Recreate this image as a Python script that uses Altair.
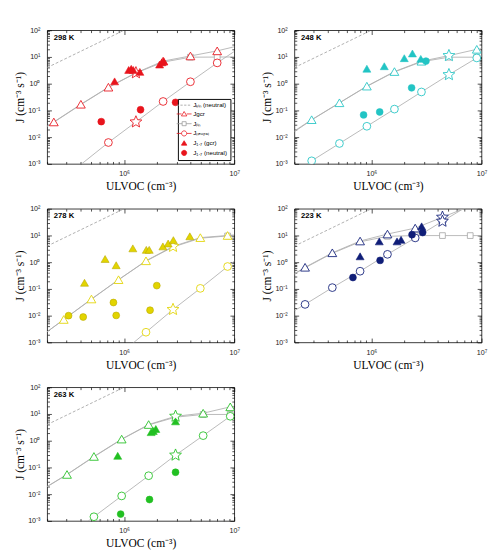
import altair as alt
import pandas as pd

XMIN, XMAX = 2e5, 1e7
YMIN, YMAX = 1e-3, 1e2

# kinetic limit (neutral), same in every panel
KIN_X = [2e5, 1e6]
KIN_Y = [4.0, 100.0]

# ---------------- 298 K ----------------
X_298 = [2.3e5, 4.05e5, 7.2e5, 1.28e6, 2.26e6, 4.0e6, 7.0e6]
GCR_LINE_298 = [0.026, 0.037, 0.17, 0.74, 2.55, 7.0, 10.9, 16.9, 24]
LIN_LINE_298 = [0.025, 0.036, 0.165, 0.72, 2.5, 6.4, 9.8, 9.9, 10]
NEU_LINE_298 = [1.0e-4, 1.6e-4, 9.5e-4, 0.0063, 0.037, 0.216, 1.18, 6.0, 16]
GCR_MK_298 = [0.037, 0.17, 0.74, 2.55, 7.0, 10.9, 16.9]
LIN_MK_298 = [None, None, None, None, None, 9.8, 9.9]
NEU_MK_298 = [None, None, 0.0063, 0.037, 0.216, 1.18, 6.0]
STAR_298 = 3
G17X_298 = [8.2e5, 1.1e6, 1.16e6, 1.21e6, 1.39e6, 2.1e6, 2.2e6, 2.29e6]
G17Y_298 = [1.22, 3.27, 3.6, 3.27, 2.77, 5.2, 6.3, 6.9]
N17X_298 = [6.2e5, 1.41e6, 2.93e6]
N17Y_298 = [0.038, 0.106, 0.2]

# ---------------- 248 K ----------------
X_248 = [2.87e5, 5.13e5, 9.1e5, 1.62e6, 2.85e6, 5.06e6, 9.06e6]
GCR_LINE_248 = [0.017, 0.045, 0.193, 0.81, 2.84, 6.9, 11.2, 19.3, 20.5]
LIN_LINE_248 = [0.016, 0.044, 0.19, 0.79, 2.75, 6.6, 9.8, 9.8, 9.9]
NEU_LINE_248 = [5.0e-4, 0.0013, 0.0058, 0.0255, 0.112, 0.49, 2.17, 9.2, 11]
GCR_MK_248 = [0.045, 0.193, 0.81, 2.84, 6.9, 11.2, 19.3]
LIN_MK_248 = [None, None, None, None, None, 9.8, 9.8]
NEU_MK_248 = [0.0013, 0.0058, 0.0255, 0.112, 0.49, 2.17, 9.2]
STAR_248 = 5
G17X_248 = [9.1e5, 1.31e6, 1.99e6, 2.36e6, 2.81e6]
G17Y_248 = [3.63, 4.5, 9.0, 13.5, 8.5]
N17X_248 = [8.5e5, 1.19e6, 2.32e6, 3.13e6]
N17Y_248 = [0.068, 0.0875, 0.70, 7.0]

# ---------------- 278 K ----------------
X_278 = [2.83e5, 5.05e5, 8.9e5, 1.58e6, 2.78e6, 4.92e6, 8.7e6]
GCR_LINE_278 = [0.0025, 0.0072, 0.042, 0.222, 1.13, 3.9, 8.3, 10.0, 10.5]
LIN_LINE_278 = [0.0025, 0.0071, 0.041, 0.22, 1.1, 3.7, 7.9, 9.6, 9.8]
NEU_LINE_278 = [None, None, None, 3.3e-4, 0.0024, 0.017, 0.105, 0.69, 1.09]
GCR_MK_278 = [0.0072, 0.042, 0.222, 1.13, 3.9, 8.3, 10.0]
LIN_MK_278 = [None, None, None, None, None, None, 9.6]
NEU_MK_278 = [None, None, None, 0.0024, 0.017, 0.105, 0.69]
STAR_278 = 4
G17X_278 = [4.37e5, 6.72e5, 8.47e5, 1.2e6, 1.59e6, 1.69e6, 2.25e6, 2.51e6, 2.8e6, 3.95e6]
G17Y_278 = [0.17, 1.32, 0.77, 3.3, 2.9, 2.9, 3.9, 5.0, 6.7, 9.3]
N17X_278 = [3.13e5, 4.25e5, 8.0e5, 8.47e5, 1.72e6, 1.98e6]
N17Y_278 = [0.01, 0.0089, 0.031, 0.0102, 0.016, 0.133]

# ---------------- 223 K ----------------
X_223 = [2.5e5, 4.42e5, 7.9e5, 1.4e6, 2.5e6, 4.42e6, 7.9e6]
GCR_LINE_223 = [0.37, 0.645, 2.25, 6.2, 11.3, 18.9, 48, 126, None]
LIN_LINE_223 = [0.36, 0.62, 2.15, 5.8, 9.3, 9.9, 9.9, 9.9, 9.9]
NEU_LINE_223 = [0.0153, 0.0264, 0.112, 0.46, 1.97, 8.1, 34, 143, None]
GCR_MK_223 = [0.645, 2.25, 6.2, 11.3, 18.9, 48, None]
LIN_MK_223 = [None, None, None, 9.3, 9.9, 9.9, 9.9]
NEU_MK_223 = [0.0264, 0.112, 0.46, 1.97, 8.1, 34, None]
STAR_223 = 5
G17X_223 = [7.9e5, 1.18e6, 1.71e6, 1.86e6, 2.86e6]
G17Y_223 = [1.66, 6.0, 6.0, 6.9, 22]
N17X_223 = [6.8e5, 1.2e6, 2.34e6, 2.92e6]
N17Y_223 = [0.267, 1.17, 10.7, 12.9]

# ---------------- 263 K ----------------
X_263 = [3.03e5, 5.32e5, 9.5e5, 1.67e6, 2.93e6, 5.22e6, 9.2e6]
GCR_LINE_263 = [0.0195, 0.0547, 0.258, 1.15, 4.03, 8.2, 10.7, 18.5, 19.5]
LIN_LINE_263 = [0.019, 0.054, 0.25, 1.12, 3.9, 7.6, 9.6, 9.6, 9.7]
NEU_LINE_263 = [None, 2.5e-4, 0.00143, 0.0086, 0.049, 0.288, 1.55, 8.2, 10]
GCR_MK_263 = [0.0547, 0.258, 1.15, 4.03, 8.2, 10.7, 18.5]
LIN_MK_263 = [None, None, None, None, None, 9.6, 9.6]
NEU_MK_263 = [None, 0.00143, 0.0086, 0.049, 0.288, 1.55, 8.2]
STAR_263 = 4
G17X_263 = [8.75e5, 1.76e6, 1.84e6, 1.94e6, 2.93e6]
G17Y_263 = [0.272, 2.09, 2.3, 2.75, 5.3]
N17X_263 = [9.3e5, 1.7e6, 2.93e6]
N17Y_263 = [0.0018, 0.0063, 0.066]

TEMPS = ["298 K", "248 K", "278 K", "223 K", "263 K"]
COLORS = ["#e8141c", "#22c4c4", "#e2d400", "#101e78", "#22c022"]
EDGES = ["#e8141c", "#22c4c4", "#b8a800", "#101e78", "#22c022"]

LEG_NAMES = ["Jₖᵢₙ (neutral)", "Jgcr", "Jₗᵢₙ", "Jₙₑᵤₜᵣₐₗ", "J₁.₇ (gcr)", "J₁.₇ (neutral)"]

PANEL_DATA = [
    (X_298, GCR_LINE_298, LIN_LINE_298, NEU_LINE_298, GCR_MK_298, LIN_MK_298, NEU_MK_298, STAR_298,
     G17X_298, G17Y_298, N17X_298, N17Y_298),
    (X_248, GCR_LINE_248, LIN_LINE_248, NEU_LINE_248, GCR_MK_248, LIN_MK_248, NEU_MK_248, STAR_248,
     G17X_248, G17Y_248, N17X_248, N17Y_248),
    (X_278, GCR_LINE_278, LIN_LINE_278, NEU_LINE_278, GCR_MK_278, LIN_MK_278, NEU_MK_278, STAR_278,
     G17X_278, G17Y_278, N17X_278, N17Y_278),
    (X_223, GCR_LINE_223, LIN_LINE_223, NEU_LINE_223, GCR_MK_223, LIN_MK_223, NEU_MK_223, STAR_223,
     G17X_223, G17Y_223, N17X_223, N17Y_223),
    (X_263, GCR_LINE_263, LIN_LINE_263, NEU_LINE_263, GCR_MK_263, LIN_MK_263, NEU_MK_263, STAR_263,
     G17X_263, G17Y_263, N17X_263, N17Y_263),
]

# ---------------- styling ----------------
W, H = 196, 140
GREY = "#b0b0b0"
SANS = "Liberation Sans"
SERIF = "Liberation Serif"

STAR = ("M0,-1L0.2645,-0.364L0.951,-0.309L0.428,0.139L0.588,0.809L0,0.45"
        "L-0.588,0.809L-0.428,0.139L-0.951,-0.309L-0.2645,-0.364Z")
TRI = "M0,-0.85L0.95,0.7L-0.95,0.7Z"
CIRC = "M0.9,0A0.9,0.9,0,1,1,-0.9,0A0.9,0.9,0,1,1,0.9,0Z"
SQ = "M-0.7,-0.7H0.7V0.7H-0.7Z"
LEG_SHAPES = [
    "M-2.6,0H-1.8M-1.3,0H-0.5M0,0H0.8M1.3,0H2.1",
    "M-2.6,0H-0.9M0.9,0H2.6" + TRI,
    "M-2.6,0H-0.7M0.7,0H2.6" + SQ,
    "M-2.6,0H-0.9M0.9,0H2.6" + CIRC,
    TRI,
    CIRC,
]

XT = [m * 10 ** e for e in (5, 6) for m in range(1, 10) if m * 10 ** e >= 2e5] + [10 ** 7]
YT = [round(m * 10.0 ** e, 10) for e in range(-3, 2) for m in range(1, 10)] + [100]
XLAB = "datum.value == 1000000 ? '10⁶' : datum.value == 10000000 ? '10⁷' : ''"
YLAB = ("datum.value == 0.001 ? '10⁻³' : datum.value == 0.01 ? '10⁻²' : datum.value == 0.1 ? '10⁻¹' : "
        "datum.value == 1 ? '10⁰' : datum.value == 10 ? '10¹' : datum.value == 100 ? '10²' : ''")
TS = {"expr": "abs(log(datum.value)/LN10 - round(log(datum.value)/LN10)) < 0.01 ? -4.5 : -2.5"}

xsc = alt.Scale(type="log", domain=[XMIN, XMAX], nice=False)
ysc = alt.Scale(type="log", domain=[YMIN, YMAX], nice=False)

common_axis = dict(domain=False, grid=False, tickColor="black", tickWidth=0.7, tickSize=TS,
                   labelFont=SANS, labelFontSize=7.5, labelColor="#222222", labelFlush=False,
                   labelOverlap=False, titleFont=SERIF, titleFontSize=12,
                   titleFontWeight="normal", titleColor="black")
AX_BOTTOM = alt.Axis(orient="bottom", values=XT, labelExpr=XLAB, title="ULVOC (cm⁻³)",
                     labelPadding=11, titlePadding=2, **common_axis)
AX_LEFT = alt.Axis(orient="left", values=YT, labelExpr=YLAB, title="J (cm⁻³ s⁻¹)",
                   labelPadding=12, titlePadding=0.5, **common_axis)
AX_TOP = alt.Axis(orient="top", values=XT, labels=False, title=None, domain=False, grid=False,
                  tickColor="black", tickWidth=0.7, tickSize=TS)
AX_RIGHT = alt.Axis(orient="right", values=YT, labels=False, title=None, domain=False, grid=False,
                    tickColor="black", tickWidth=0.7, tickSize=TS)


def xy(xaxis=None, yaxis=None):
    return dict(x=alt.X("x:Q", scale=xsc, axis=xaxis), y=alt.Y("y:Q", scale=ysc, axis=yaxis))


def pts(xs, ys):
    return pd.DataFrame({"x": xs, "y": ys}).dropna()


def panel(idx):
    (xs, gl, ll, nl, gm, lm, nm, star, g17x, g17y, n17x, n17y) = PANEL_DATA[idx]
    col, edge, name = COLORS[idx], EDGES[idx], TEMPS[idx]
    lx = [XMIN] + list(xs) + [XMAX]
    lines_df = pd.DataFrame({
        "x": lx * 3,
        "y": list(gl) + list(ll) + list(nl),
        "c": ["gcr"] * 9 + ["lin"] * 9 + ["neu"] * 9,
        "o": list(range(9)) * 3,
    }).dropna()

    kin = alt.Chart(pts(KIN_X, KIN_Y)).mark_line(
        color="#999999", strokeWidth=0.8, strokeDash=[3, 2], clip=True
    ).encode(**xy(AX_BOTTOM, AX_LEFT))

    lines = alt.Chart(lines_df).mark_line(color=GREY, strokeWidth=0.9, clip=True).encode(
        detail="c:N", order="o:Q", **xy(AX_TOP, AX_RIGHT))

    tri_x = [x for i, x in enumerate(xs) if i != star]
    tri_y = [y for i, y in enumerate(gm) if i != star]
    cir_x = [x for i, x in enumerate(xs) if i != star]
    cir_y = [y for i, y in enumerate(nm) if i != star]
    star_df = pd.DataFrame({"x": [xs[star], xs[star]], "y": [gm[star], nm[star]]}).dropna()

    def open_mk(df, shape, size, stroke):
        return alt.Chart(df).mark_point(
            shape=shape, size=size, filled=True, fill="white", stroke=stroke,
            strokeWidth=0.9, opacity=1, clip=True
        ).encode(**xy())

    def full_mk(df, shape, size):
        return alt.Chart(df).mark_point(
            shape=shape, size=size, filled=True, fill=col, stroke=edge,
            strokeWidth=0.6, opacity=1, clip=True
        ).encode(**xy())

    layers = [
        kin,
        lines,
        open_mk(pts(xs, lm), "square", 36, "#aaaaaa"),
        open_mk(pts(tri_x, tri_y), "triangle-up", 85, col),
        open_mk(pts(cir_x, cir_y), "circle", 66, col),
        open_mk(star_df, STAR, 170, col),
        full_mk(pts(g17x, g17y), "triangle-up", 70),
        full_mk(pts(n17x, n17y), "circle", 52),
        alt.Chart(pd.DataFrame({"t": [name]})).mark_text(
            align="left", baseline="middle", font=SANS, fontWeight="bold", fontSize=8, color="black"
        ).encode(x=alt.value(7), y=alt.value(8), text="t:N"),
    ]

    if idx == 0:
        leg_df = pd.DataFrame({"s": LEG_NAMES, "x": [None] * 6, "y": [None] * 6})
        fills = ["white", "white", "white", "white", col, col]
        strokes = ["#999999", col, "#999999", col, col, col]
        legend = alt.Chart(leg_df).mark_point(filled=True, opacity=1, strokeWidth=0.8).encode(
            shape=alt.Shape("s:N", scale=alt.Scale(domain=LEG_NAMES, range=LEG_SHAPES),
                            legend=alt.Legend(title=None, orient="bottom-right", offset=4, padding=3,
                                              strokeColor="black", fillColor="white",
                                              labelFont=SANS, labelFontSize=6.5, labelColor="black",
                                              symbolSize=36, symbolStrokeWidth=0.8, labelOffset=6,
                                              rowPadding=1.2, labelLimit=80)),
            fill=alt.Fill("s:N", scale=alt.Scale(domain=LEG_NAMES, range=fills)),
            stroke=alt.Stroke("s:N", scale=alt.Scale(domain=LEG_NAMES, range=strokes)),
            **xy(),
        )
        layers.append(legend)

    return alt.layer(*layers).resolve_axis(x="independent", y="independent").properties(width=W, height=H)


chart = alt.concat(
    *[panel(i) for i in range(5)], columns=2, spacing={"row": 12, "column": 21}
).resolve_scale(
    shape="independent", fill="independent", stroke="independent"
).configure_view(
    stroke="black", strokeWidth=0.8
).properties(background="white")

chart.save("out.html", embed_options={"renderer": "svg", "actions": False})
